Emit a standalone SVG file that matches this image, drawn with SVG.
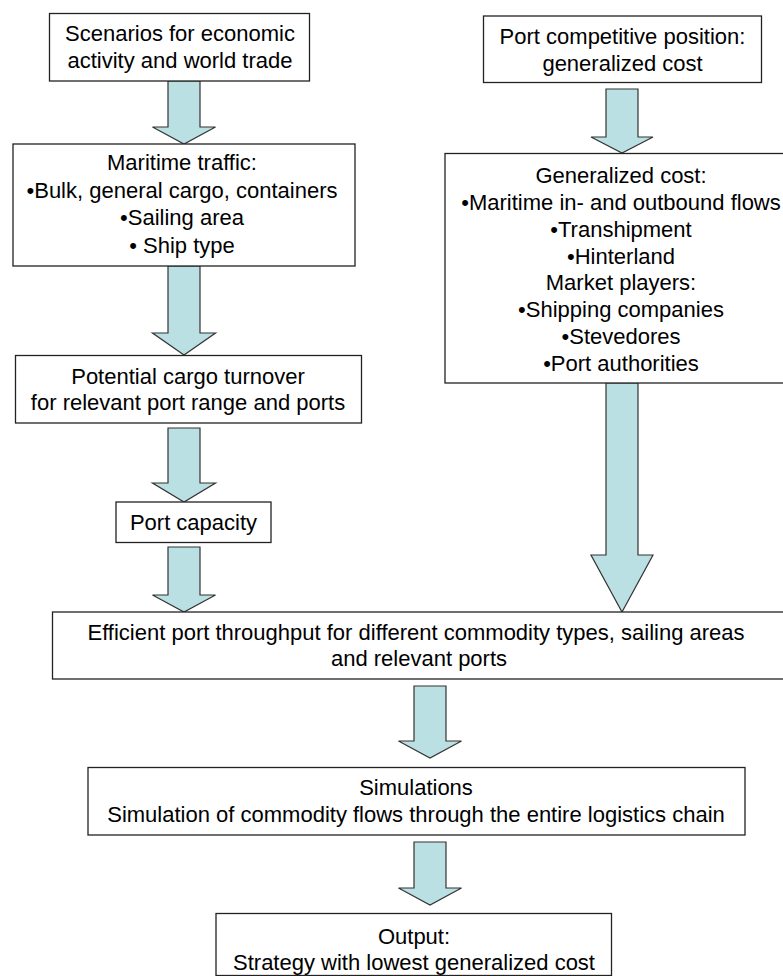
<svg xmlns="http://www.w3.org/2000/svg" width="783" height="976" viewBox="0 0 783 976">
<style>
.box{fill:#fff;stroke:#222;stroke-width:1.3}
.arr{fill:#BBE0E3;stroke:#333;stroke-width:1.2;stroke-linejoin:miter}
text{font-family:"Liberation Sans",Arial,sans-serif;font-size:22px;fill:#000;text-anchor:middle}
</style>
<rect width="783" height="976" fill="#fff"/>
<g id="connectors">
<polygon class="arr" points="168,81 200,81 200,127 215.5,127 184,144 152.5,127 168,127"/>
<polygon class="arr" points="168,266 200,266 200,333 215.5,333 184,355 152.5,333 168,333"/>
<polygon class="arr" points="168,428 200,428 200,483 215.5,483 184,502 152.5,483 168,483"/>
<polygon class="arr" points="168,547 200,547 200,595 215.5,595 184,612 152.5,595 168,595"/>
<polygon class="arr" points="606,89 638,89 638,137 653,137 622,153 591,137 606,137"/>
<polygon class="arr" points="606,383 638,383 638,555 653,555 622,612 591,555 606,555"/>
<polygon class="arr" points="414,686 446,686 446,741 461.5,741 430,758 398.5,741 414,741"/>
<polygon class="arr" points="414,842 446,842 446,888 461.5,888 430,905 398.5,888 414,888"/>
</g>
<g id="scenarios">
<rect class="box" x="49.5" y="13.5" width="260" height="67.5"/>
<text x="180" y="41">Scenarios for economic</text>
<text x="180" y="68">activity and world trade</text>
</g>
<g id="maritime">
<rect class="box" x="13" y="144" width="342" height="122"/>
<text x="182" y="170">Maritime traffic:</text>
<text x="182" y="197.5">•Bulk, general cargo, containers</text>
<text x="182" y="225">•Sailing area</text>
<text x="182" y="252.5">• Ship type</text>
</g>
<g id="potential">
<rect class="box" x="15.5" y="355.5" width="346" height="67.5"/>
<text x="188" y="383.5">Potential cargo turnover</text>
<text x="188" y="410">for relevant port range and ports</text>
</g>
<g id="capacity">
<rect class="box" x="116" y="502" width="155" height="40.5"/>
<text x="193.5" y="530">Port capacity</text>
</g>
<g id="competitive">
<rect class="box" x="483.5" y="16" width="278" height="66.5"/>
<text x="622.5" y="43.5">Port competitive position:</text>
<text x="622.5" y="71">generalized cost</text>
</g>
<g id="generalized">
<rect class="box" x="445" y="153.5" width="360" height="229.5"/>
<text x="621" y="182.5">Generalized cost:</text>
<text x="621" y="209.5">•Maritime in- and outbound flows</text>
<text x="621" y="236.5">•Transhipment</text>
<text x="621" y="263.5">•Hinterland</text>
<text x="621" y="290">Market players:</text>
<text x="621" y="317">•Shipping companies</text>
<text x="621" y="344">•Stevedores</text>
<text x="621" y="371">•Port authorities</text>
</g>
<g id="throughput">
<rect class="box" x="52.5" y="612" width="732" height="67"/>
<text x="416" y="640">Efficient port throughput for different commodity types, sailing areas</text>
<text x="419" y="666">and relevant ports</text>
</g>
<g id="simulations">
<rect class="box" x="88" y="767.5" width="657" height="67.5"/>
<text x="416" y="795">Simulations</text>
<text x="416" y="821.5">Simulation of commodity flows through the entire logistics chain</text>
</g>
<g id="output">
<rect class="box" x="216" y="913.5" width="395.5" height="62"/>
<text x="414" y="944">Output:</text>
<text x="414" y="970">Strategy with lowest generalized cost</text>
</g>
</svg>
